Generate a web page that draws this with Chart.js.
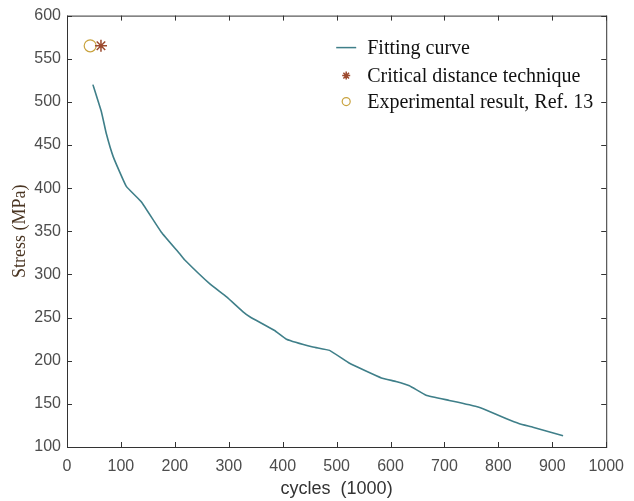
<!DOCTYPE html>
<html>
<head>
<meta charset="utf-8">
<script src="https://cdn.jsdelivr.net/npm/chart.js@4"></script>
<style>
  html, body { margin: 0; padding: 0; background: #fff; }
  #wrap { width: 634px; height: 501px; position: relative; }
</style>
</head>
<body>
<div id="wrap"><canvas id="stressChart"></canvas></div>
<script>
// Fitting curve (cycles in thousands, stress in MPa)
const fitCycles = [48, 64, 73, 86, 110, 138, 175, 209, 218, 265, 296, 326, 339, 385, 407, 456, 487, 524, 583, 610, 635, 666, 709, 759, 777, 814, 839, 864, 920];
const fitStress = [520, 488, 463, 436, 402, 384, 349, 324, 317, 289, 274, 257, 251, 235, 225, 216, 212, 197, 180, 176, 171, 160, 154, 147, 143, 133, 127, 123, 113];

// Single points
const criticalCycles = [63];
const criticalStress = [565];
const experimentCycles = [43];
const experimentStress = [565];

const seriesLabels = ['Fitting curve', 'Critical distance technique', 'Experimental result, Ref. 13'];
const xTicks = [0, 100, 200, 300, 400, 500, 600, 700, 800, 900, 1000];
const yTicks = [100, 150, 200, 250, 300, 350, 400, 450, 500, 550, 600];

const lineColor = '#3f7f89';
const starColor = '#9c4a2e';
const circleColor = '#c9a33f';
const frameColor = '#333333';

function toPoints(xs, ys) {
    return xs.map((x, i) => ({ x: x, y: ys[i] }));
}

// Box around the plot with inward tick marks on all four sides (MATLAB style)
const framePlugin = {
    id: 'frame',
    afterDatasetsDraw(chart) {
        const ctx = chart.ctx;
        const a = chart.chartArea;
        const xs = chart.scales.x;
        const ys = chart.scales.y;
        const len = 5;
        ctx.save();
        ctx.strokeStyle = frameColor;
        ctx.lineWidth = 1;
        ctx.strokeRect(a.left + 0.5, a.top + 0.5, a.right - a.left, a.bottom - a.top);
        ctx.beginPath();
        xTicks.forEach(v => {
            const px = Math.round(xs.getPixelForValue(v)) + 0.5;
            ctx.moveTo(px, a.bottom);
            ctx.lineTo(px, a.bottom - len);
            ctx.moveTo(px, a.top);
            ctx.lineTo(px, a.top + len);
        });
        yTicks.forEach(v => {
            const py = Math.round(ys.getPixelForValue(v)) + 0.5;
            ctx.moveTo(a.left, py);
            ctx.lineTo(a.left + len, py);
            ctx.moveTo(a.right, py);
            ctx.lineTo(a.right - len, py);
        });
        ctx.stroke();
        ctx.restore();
    }
};

// Legend drawn inside the plot, top right, without a box
const legendPlugin = {
    id: 'insideLegend',
    afterDraw(chart) {
        const ctx = chart.ctx;
        const a = chart.chartArea;
        const x0 = a.right - 270;
        const textX = x0 + 31;
        const rows = [a.top + 32, a.top + 60, a.top + 86];
        const sets = chart.data.datasets;
        ctx.save();
        ctx.font = '20px "Liberation Serif", "Times New Roman", serif';
        ctx.fillStyle = '#111';
        ctx.textBaseline = 'middle';
        ctx.textAlign = 'left';

        // line sample
        ctx.strokeStyle = sets[0].borderColor;
        ctx.lineWidth = 1.5;
        ctx.beginPath();
        ctx.moveTo(x0, rows[0]);
        ctx.lineTo(x0 + 20, rows[0]);
        ctx.stroke();

        // marker samples
        ctx.strokeStyle = sets[1].borderColor;
        Chart.helpers.drawPoint(ctx, {
            pointStyle: 'star', radius: 4, borderWidth: 1.2, rotation: 0
        }, x0 + 10, rows[1]);
        ctx.strokeStyle = sets[2].borderColor;
        ctx.lineWidth = 1.2;
        ctx.beginPath();
        ctx.arc(x0 + 10, rows[2], 4, 0, Math.PI * 2);
        ctx.stroke();

        sets.forEach((ds, i) => {
            ctx.fillText(ds.label, textX, rows[i] + 1);
        });
        ctx.restore();
    }
};

const ctx = document.getElementById('stressChart').getContext('2d');
const stressChart = new Chart(ctx, {
    type: 'scatter',
    data: {
        datasets: [
            {
                label: seriesLabels[0],
                data: toPoints(fitCycles, fitStress),
                showLine: true,
                borderColor: lineColor,
                backgroundColor: lineColor,
                borderWidth: 1.6,
                pointRadius: 0,
                tension: 0.1
            },
            {
                label: seriesLabels[1],
                data: toPoints(criticalCycles, criticalStress),
                pointStyle: 'star',
                pointRadius: 6,
                borderColor: starColor,
                backgroundColor: starColor,
                pointBorderWidth: 1.5
            },
            {
                label: seriesLabels[2],
                data: toPoints(experimentCycles, experimentStress),
                pointStyle: 'circle',
                pointRadius: 6,
                borderColor: circleColor,
                backgroundColor: 'rgba(0,0,0,0)',
                pointBorderWidth: 1.2
            }
        ]
    },
    options: {
        responsive: true,
        maintainAspectRatio: false,
        animation: false,
        layout: {
            padding: { top: 15, right: 26, bottom: 0, left: 0 }
        },
        plugins: {
            legend: { display: false },
            tooltip: { enabled: false }
        },
        scales: {
            x: {
                type: 'linear',
                min: 0,
                max: 1000,
                afterBuildTicks: scale => {
                    scale.ticks = xTicks.map(v => ({ value: v }));
                },
                afterFit: scale => { scale.height = 54; },
                grid: { display: false, drawTicks: false },
                border: { display: false },
                ticks: {
                    padding: 10,
                    color: '#4d4d4d',
                    maxRotation: 0,
                    callback: v => String(v),
                    font: { family: 'Liberation Sans', size: 16 }
                },
                title: {
                    display: true,
                    text: 'cycles  (1000)',
                    color: '#333',
                    padding: { top: 0, bottom: 1 },
                    font: { family: 'Liberation Sans', size: 18 }
                }
            },
            y: {
                type: 'linear',
                min: 100,
                max: 600,
                afterBuildTicks: scale => {
                    scale.ticks = yTicks.map(v => ({ value: v }));
                },
                afterFit: scale => { scale.width = 67; },
                grid: { display: false, drawTicks: false },
                border: { display: false },
                ticks: {
                    padding: 6,
                    color: '#4d4d4d',
                    callback: v => String(v),
                    font: { family: 'Liberation Sans', size: 16 }
                },
                title: {
                    display: true,
                    text: 'Stress (MPa)',
                    color: '#4a3522',
                    padding: { top: 9, bottom: 0 },
                    font: { family: 'Liberation Serif', size: 18 }
                }
            }
        }
    },
    plugins: [framePlugin, legendPlugin]
});
</script>
</body>
</html>
